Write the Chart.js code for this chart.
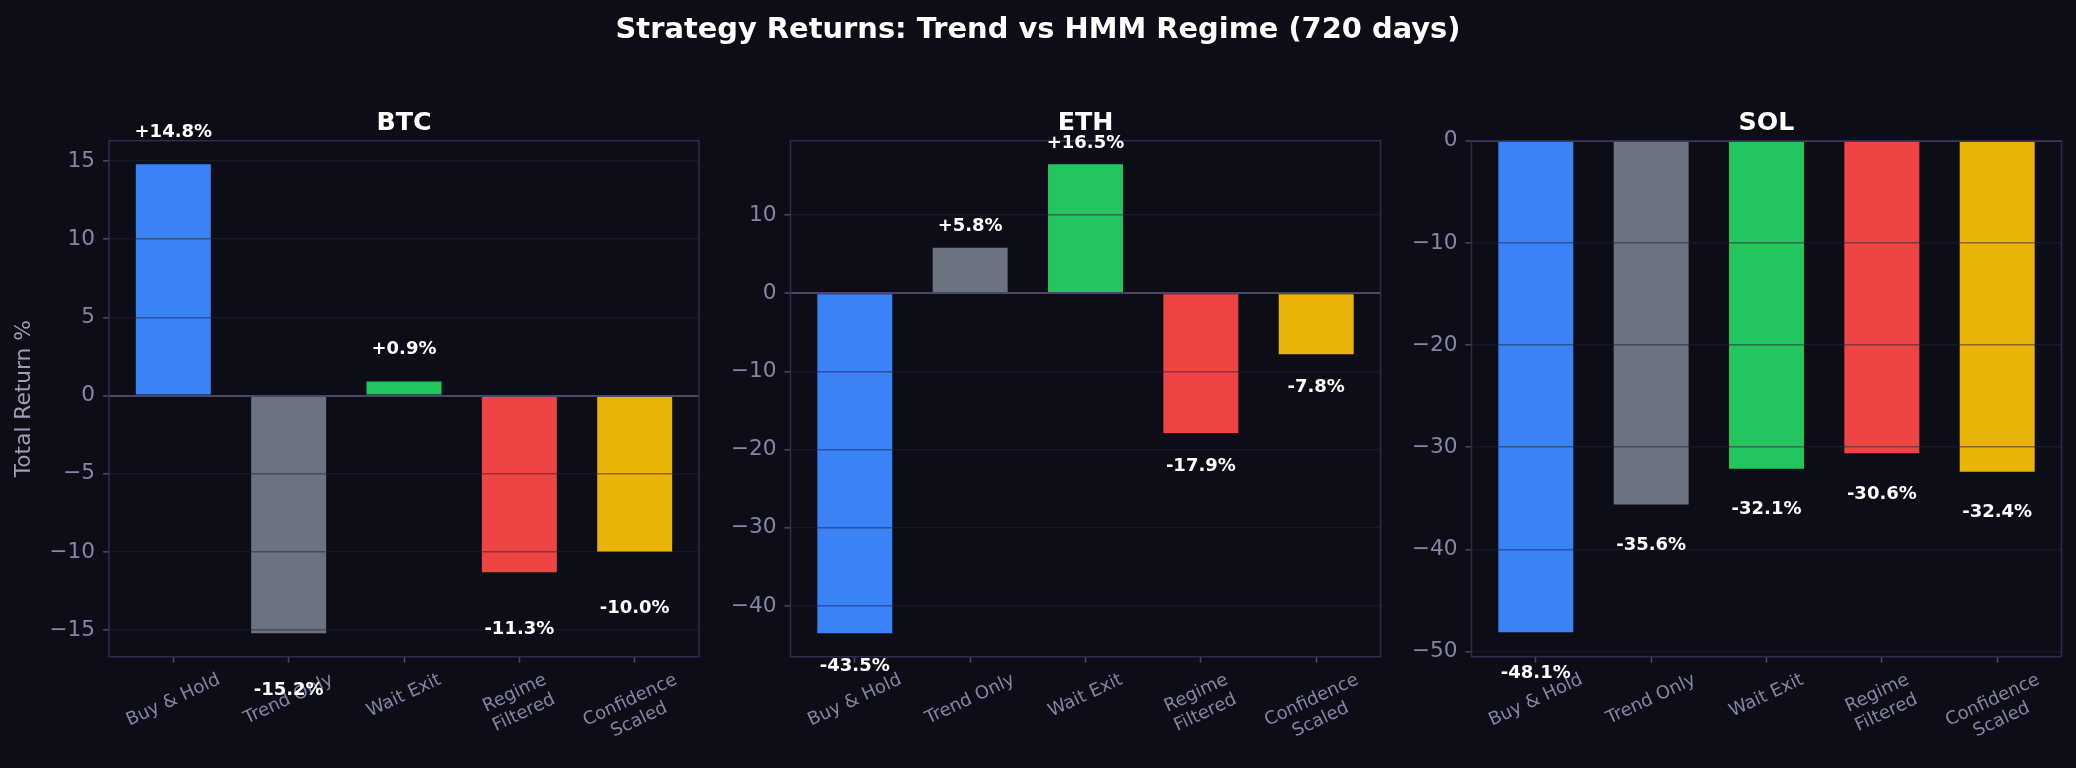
<!DOCTYPE html>
<html>
<head>
<meta charset="utf-8">
<script src="https://cdn.jsdelivr.net/npm/chart.js@4.4.1/dist/chart.umd.min.js"></script>
<style>
  html, body { margin: 0; padding: 0; background: #0d0d17; }
  #wrap { position: relative; width: 2076px; height: 768px; background: #0d0d17; overflow: hidden; }
  #wrap canvas { position: absolute; left: 0; top: 0; }
</style>
</head>
<body>
<div id="wrap">
  <canvas id="c0" width="2076" height="768"></canvas>
  <canvas id="c1" width="2076" height="768"></canvas>
  <canvas id="c2" width="2076" height="768"></canvas>
</div>
<script>
// ---------------- DATA ----------------
const suptitle = 'Strategy Returns: Trend vs HMM Regime (720 days)';
const strategies = ['Buy & Hold', 'Trend Only', 'Wait Exit', 'Regime\nFiltered', 'Confidence\nScaled'];
const assets = ['BTC', 'ETH', 'SOL'];
const btcReturns = [14.8, -15.2, 0.9, -11.3, -10.0];
const ethReturns = [-43.5, 5.8, 16.5, -17.9, -7.8];
const solReturns = [-48.1, -35.6, -32.1, -30.6, -32.4];
const btcTicks = [-15, -10, -5, 0, 5, 10, 15];
const ethTicks = [-40, -30, -20, -10, 0, 10];
const solTicks = [-50, -40, -30, -20, -10, 0];
const yLabel = 'Total Return %';

// ---------------- STYLE ----------------
const FONT = '"DejaVu Sans", "Noto Sans", sans-serif';
const BAR_COLORS = ['#3b82f6', '#6b7280', '#22c55e', '#ef4444', '#eab308'];
const TICK_TEXT = '#8585a5';
const YLABEL_TEXT = '#9d9db5';
const SPINE = '#2f2c4d';
const TICKMARK = '#4a4a68';
const GRID = 'rgba(34,34,54,0.5)';
const ZERO = '#4b4867';
const W = 2076, H = 768;
const PLOT_TOP = 140.7, PLOT_BOTTOM = 656.7, PLOT_W = 590;
const PANEL_LEFT = [109, 790.5, 1471.5];
const POS_OFF = [32, 21.3, 32];   // px from bar end to label centre (positive bars)
const NEG_OFF = [56.7, 33, 41];   // px from bar end to label centre (negative bars)

Chart.defaults.font.family = FONT;

const panels = [
  { name: assets[0], values: btcReturns, ticks: btcTicks },
  { name: assets[1], values: ethReturns, ticks: ethTicks },
  { name: assets[2], values: solReturns, ticks: solTicks }
];

// matplotlib-like autoscale: 5% margins, bar baseline at 0 is sticky
function yLimits(vals) {
  const lo = Math.min(0, ...vals), hi = Math.max(0, ...vals);
  const span = hi - lo;
  return [lo === 0 ? 0 : lo - 0.05 * span, hi === 0 ? 0 : hi + 0.05 * span];
}
const BAR_W = 0.65;
const xSpan = (strategies.length - 1) + BAR_W;
const X_MIN = -BAR_W / 2 - 0.05 * xSpan;
const X_MAX = (strategies.length - 1) + BAR_W / 2 + 0.05 * xSpan;

function fmtTick(v) { return v < 0 ? '\u2212' + Math.abs(v) : String(v); }
function fmtVal(v) { return (v >= 0 ? '+' : '') + v.toFixed(1) + '%'; }

function decoPlugin(p) {
  return {
    id: 'deco' + p,
    afterDraw(chart) {
      const ctx = chart.ctx, a = chart.chartArea;
      const panel = panels[p];
      ctx.save();
      // spines
      ctx.strokeStyle = SPINE; ctx.lineWidth = 1.5;
      ctx.strokeRect(a.left, a.top, a.right - a.left, a.bottom - a.top);
      // subplot title
      ctx.fillStyle = '#ffffff';
      ctx.font = 'bold 25.3px ' + FONT;
      ctx.textAlign = 'center'; ctx.textBaseline = 'alphabetic';
      ctx.fillText(panel.name, (a.left + a.right) / 2, 129.5);
      // super title
      if (p === 0) {
        ctx.font = 'bold 28.9px ' + FONT;
        ctx.fillText(suptitle, W / 2, 37.5);
      }
      // rotated x tick labels (centre aligned, 25 deg)
      const xs = chart.scales.x;
      const fs = 18, lh = fs * 1.2;
      ctx.font = fs + 'px ' + FONT;
      ctx.fillStyle = TICK_TEXT;
      const ang = 25 * Math.PI / 180;
      strategies.forEach((s, i) => {
        const lines = s.split('\n');
        const w = Math.max(...lines.map(l => ctx.measureText(l).width));
        const h = lines.length * lh;
        const bh = w * Math.sin(ang) + h * Math.cos(ang);
        const cx = xs.getPixelForValue(i);
        const cy = a.bottom + 12.5 + bh / 2;
        ctx.save();
        ctx.translate(cx, cy); ctx.rotate(-ang);
        ctx.textAlign = 'center'; ctx.textBaseline = 'middle';
        lines.forEach((l, j) => ctx.fillText(l, 0, (j - (lines.length - 1) / 2) * lh));
        ctx.restore();
      });
      // value labels
      const meta = chart.getDatasetMeta(0);
      ctx.font = 'bold 18px ' + FONT;
      ctx.fillStyle = '#ffffff';
      ctx.textAlign = 'center'; ctx.textBaseline = 'middle';
      panel.values.forEach((v, i) => {
        const el = meta.data[i];
        const y = v >= 0 ? el.y - POS_OFF[p] : el.y + NEG_OFF[p];
        ctx.fillText(fmtVal(v), el.x, y);
      });
      ctx.restore();
    }
  };
}

panels.forEach((panel, p) => {
  const [ymin, ymax] = yLimits(panel.values);
  const left = PANEL_LEFT[p], right = left + PLOT_W;
  new Chart(document.getElementById('c' + p), {
    type: 'bar',
    data: {
      datasets: [{
        data: panel.values.map((v, i) => ({ x: i, y: v })),
        backgroundColor: BAR_COLORS,
        borderWidth: 0,
        categoryPercentage: 1,
        barPercentage: BAR_W
      }]
    },
    options: {
      responsive: false,
      animation: false,
      devicePixelRatio: 1,
      events: [],
      layout: { padding: { left: 0, top: PLOT_TOP, right: W - right, bottom: 0 } },
      plugins: { legend: { display: false }, tooltip: { enabled: false } },
      scales: {
        x: {
          type: 'linear',
          offset: false,
          min: X_MIN, max: X_MAX,
          afterBuildTicks: s => { s.ticks = strategies.map((_, i) => ({ value: i })); },
          afterFit: s => { s.height = H - PLOT_BOTTOM; },
          ticks: { display: false },
          grid: { offset: false, drawOnChartArea: false, drawTicks: true, tickLength: 6, tickColor: TICKMARK, tickWidth: 1.5 },
          border: { display: false }
        },
        y: {
          min: ymin, max: ymax,
          z: 1,
          afterBuildTicks: s => { s.ticks = panel.ticks.map(v => ({ value: v })); },
          afterFit: s => { s.width = left; },
          ticks: { color: TICK_TEXT, font: { size: 21.7 }, padding: 8, callback: v => fmtTick(v) },
          grid: {
            z: 1,
            color: c => (c.tick && c.tick.value === 0) ? ZERO : GRID,
            lineWidth: c => (c.tick && c.tick.value === 0) ? 2 : 1.6,
            drawTicks: true, tickLength: 6, tickColor: TICKMARK, tickWidth: 1.5
          },
          border: { display: false },
          title: {
            display: p === 0, text: yLabel, color: YLABEL_TEXT,
            font: { size: 21.7 }, padding: { top: 11, bottom: 0 }
          }
        }
      }
    },
    plugins: [decoPlugin(p)]
  });
});
</script>
</body>
</html>
